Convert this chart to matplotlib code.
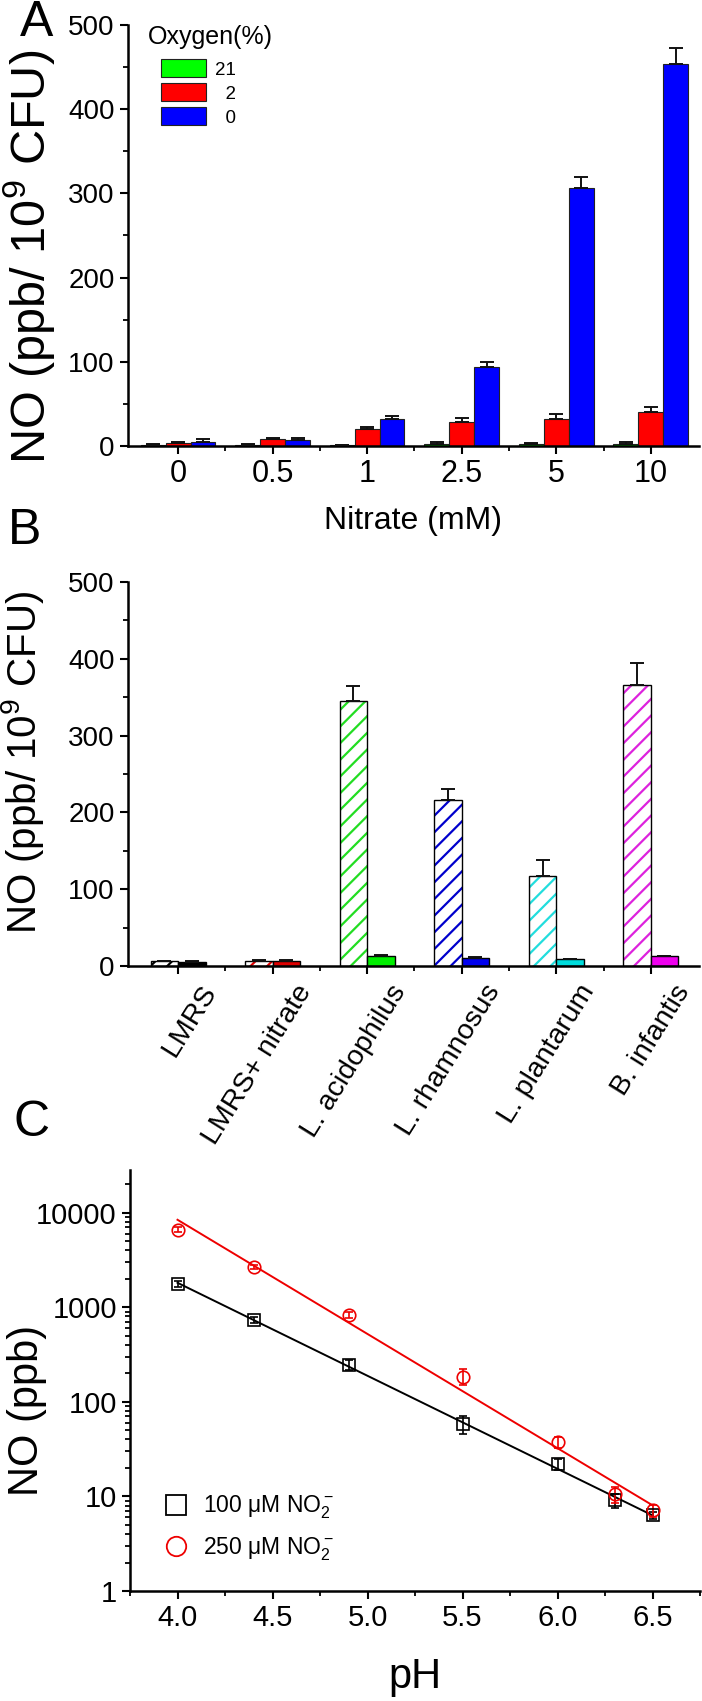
import numpy as np
import matplotlib
matplotlib.use("Agg")
import matplotlib.pyplot as plt
import matplotlib.ticker as ticker
from matplotlib.lines import Line2D
from matplotlib.transforms import ScaledTranslation

plt.rcParams['font.family'] = ['Liberation Sans', 'DejaVu Sans']
plt.rcParams['mathtext.default'] = 'regular'
plt.rcParams['hatch.linewidth'] = 1.6

# ---- panel A data
nitrate = ['0', '0.5', '1', '2.5', '5', '10']
oxygen = ['21', '2', '0']
no_21 = [1.5, 1.5, 1, 2.5, 2, 2]
err_21 = [0.5, 0.5, 0.5, 2, 1, 2.5]
no_2 = [4, 8, 20, 28, 32.5, 40]
err_2 = [1, 1, 3, 5, 5, 6.5]
no_0 = [5, 7.5, 32, 93.5, 306, 454]
err_0 = [3, 2.5, 4, 6, 13, 19]

# ---- panel B data
strains = ['LMRS', 'LMRS+ nitrate', 'L. acidophilus', 'L. rhamnosus', 'L. plantarum', 'B. infantis']
no_hatched = [6, 7, 345, 216, 117, 366]
err_hatched = [0.5, 0.5, 19, 15, 21, 28]
no_solid = [5.5, 7, 12.5, 10, 8.5, 12.5]
err_solid = [1.5, 1, 1.5, 1.5, 1, 1]

# ---- panel C data
ph = [4.0, 4.4, 4.9, 5.5, 6.0, 6.3, 6.5]
no_100 = [1770, 733, 245, 58, 22, 9.1, 6.3]
err_100 = [120, 50, 30, 12, 3, 1.5, 0.6]
no_250 = [6600, 2670, 830, 185, 37.5, 10.5, 7.1]
err_250 = [400, 150, 70, 35, 5, 2, 1]

fig = plt.figure(figsize=(7.02, 17.01), dpi=100)
W, H = 702, 1701


def px_axes(l, t, r, b):
    return fig.add_axes([l / W, 1 - b / H, (r - l) / W, (b - t) / H])


def style(ax):
    ax.spines['top'].set_visible(False)
    ax.spines['right'].set_visible(False)
    ax.spines['left'].set_linewidth(1.8)
    ax.spines['bottom'].set_linewidth(1.8)
    ax.tick_params(which='major', direction='out', length=6, width=1.5)
    ax.tick_params(which='minor', direction='out', length=3.5, width=1.3)


# ================= A
axA = px_axes(128, 25, 699, 446)
style(axA)
x = np.arange(len(nitrate))
w = 0.263
colsA = ['#00ff00', '#ff0000', '#0000ff']
bars = []
for off, vals, errs, c in zip([-w, 0, w], [no_21, no_2, no_0], [err_21, err_2, err_0], colsA):
    b = axA.bar(x + off, vals, w, color=c, edgecolor='#222222', linewidth=0.8, zorder=2)
    bars.append(b)
    axA.errorbar(x + off, vals, yerr=[np.zeros(len(vals)), errs], fmt='none',
                 ecolor='#111111', elinewidth=1.4, capsize=5, capthick=1.4, zorder=3)
axA.set_xlim(-0.53, 5.51)
axA.set_ylim(0, 500)
axA.set_xticks(x)
axA.set_xticklabels(nitrate, fontsize=22)
axA.xaxis.set_minor_locator(ticker.FixedLocator(x[:-1] + 0.5))
axA.yaxis.set_major_locator(ticker.MultipleLocator(100))
axA.yaxis.set_minor_locator(ticker.MultipleLocator(50))
axA.tick_params(axis='y', labelsize=20)
axA.set_xlabel('Nitrate (mM)', fontsize=23, labelpad=12)
axA.set_ylabel('NO (ppb/ 10$^9$ CFU)', fontsize=35)
axA.yaxis.set_label_coords((57 - 128) / 571, 0.45)
axA.text((148 - 128) / 571, 1.0, 'Oxygen(%)', transform=axA.transAxes,
         fontsize=18, ha='left', va='top')
axA.legend(bars, ['21', '  2', '  0'], loc='upper left',
           bbox_to_anchor=((152 - 128) / 571, 1 - (50 - 25) / 421),
           frameon=False, fontsize=13.5, borderpad=0, handlelength=2.4,
           handleheight=1.1, labelspacing=0.25, handletextpad=0.45)

# ================= B
axB = px_axes(128, 582, 699, 966)
style(axB)
x = np.arange(len(strains))
wb = 0.29
hatch_cols = ['black', '#e00000', '#22dd22', '#0000cc', '#22dddd', '#dd22dd']
solid_cols = ['black', '#dd0000', '#00ee00', '#0000ee', '#00dddd', '#ee00ee']
axB.bar(x - wb / 2, no_hatched, wb, color='white', edgecolor=hatch_cols,
        hatch='//', linewidth=0, zorder=2)
axB.bar(x - wb / 2, no_hatched, wb, fill=False, edgecolor='black', linewidth=1.0, zorder=2)
axB.bar(x + wb / 2, no_solid, wb, color=solid_cols, edgecolor='black', linewidth=1.0, zorder=2)
axB.errorbar(x - wb / 2, no_hatched, yerr=[np.zeros(6), err_hatched], fmt='none',
             ecolor='#111111', elinewidth=1.4, capsize=5, capthick=1.4, zorder=3)
axB.errorbar(x + wb / 2, no_solid, yerr=[np.zeros(6), err_solid], fmt='none',
             ecolor='#111111', elinewidth=1.4, capsize=5, capthick=1.4, zorder=3)
axB.set_xlim(-0.53, 5.51)
axB.set_ylim(0, 500)
axB.set_xticks(x)
axB.set_xticklabels(strains, fontsize=20.5, rotation=58, ha='right',
                    va='center', rotation_mode='anchor')
for lab in axB.get_xticklabels():
    lab.set_transform(lab.get_transform() + ScaledTranslation(0.33, -0.08, fig.dpi_scale_trans))
axB.xaxis.set_minor_locator(ticker.FixedLocator(x[:-1] + 0.5))
axB.yaxis.set_major_locator(ticker.MultipleLocator(100))
axB.yaxis.set_minor_locator(ticker.MultipleLocator(50))
axB.tick_params(axis='y', labelsize=20)
axB.set_ylabel('NO (ppb/ 10$^9$ CFU)', fontsize=29)
axB.yaxis.set_label_coords((46 - 128) / 571, 0.53)

# ================= C
axC = px_axes(130, 1170, 700, 1591)
style(axC)
handles = []
for vals, errs, c, m in [(no_100, err_100, 'black', 's'), (no_250, err_250, '#ee0000', 'o')]:
    axC.errorbar(ph, vals, yerr=errs, fmt=m, mfc='none', mec=c, ms=9, mew=1.2,
                 ecolor=c, elinewidth=1.2, capsize=3, capthick=1.2, zorder=3)
    k, b0 = np.polyfit(ph, np.log10(vals), 1)
    xx = np.array([ph[0], ph[-1]])
    axC.plot(xx, 10 ** (k * xx + b0), color=c, lw=1.4, zorder=2)
    handles.append(Line2D([], [], ls='none', marker=m, mfc='none', mec=c, ms=14, mew=1.3))
axC.set_yscale('log')
axC.set_ylim(1, 10 ** 4.45)
axC.set_xlim(3.75, 6.75)
axC.xaxis.set_major_locator(ticker.MultipleLocator(0.5))
axC.xaxis.set_minor_locator(ticker.MultipleLocator(0.25))
axC.xaxis.set_major_formatter(ticker.FormatStrFormatter('%.1f'))
axC.yaxis.set_major_formatter(ticker.FuncFormatter(lambda v, p: f'{v:g}'))
axC.yaxis.set_minor_formatter(ticker.NullFormatter())
axC.tick_params(axis='both', labelsize=21)
axC.set_xlabel('pH', fontsize=30, labelpad=18)
axC.set_ylabel('NO (ppb)', fontsize=30)
axC.yaxis.set_label_coords((47 - 130) / 570, 0.43)
axC.legend(handles, ['100 \u03bcM NO$_2^-$', '250 \u03bcM NO$_2^-$'], loc='lower left',
           bbox_to_anchor=((153 - 130) / 570, 0.04),
           frameon=False, fontsize=16.5, borderpad=0, handlelength=1.0,
           handletextpad=0.7, labelspacing=0.6)

# panel letters
fig.text(20 / W, 1 - 0 / H, 'A', fontsize=36, ha='left', va='top')
fig.text(8 / W, 1 - 508 / H, 'B', fontsize=36, ha='left', va='top')
fig.text(14 / W, 1 - 1100 / H, 'C', fontsize=36, ha='left', va='top')

fig.savefig('out.png', dpi=100)
